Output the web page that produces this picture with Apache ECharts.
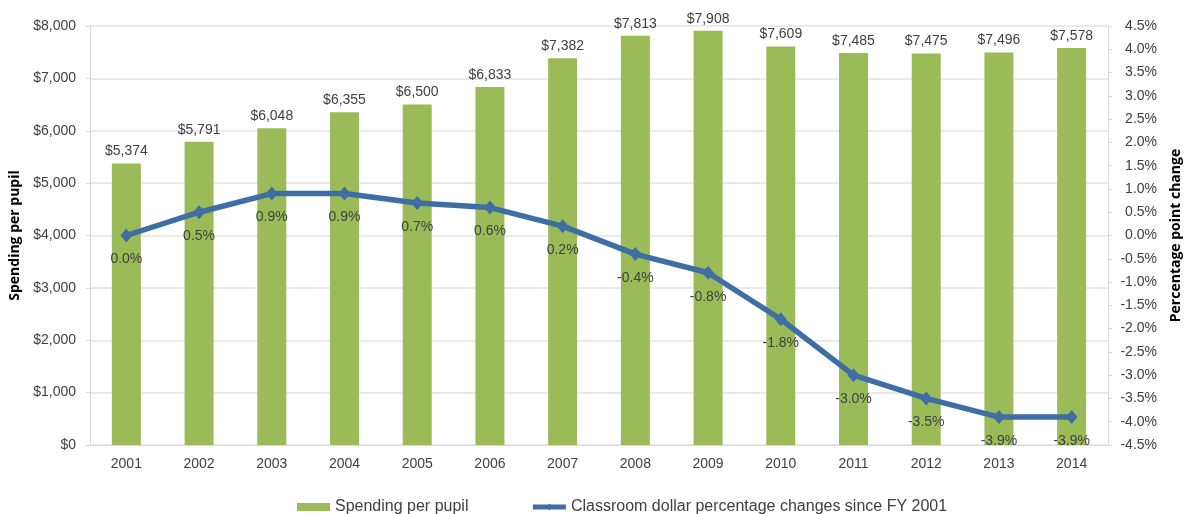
<!DOCTYPE html>
<html>
<head>
<meta charset="utf-8">
<script src="https://cdn.jsdelivr.net/npm/echarts@6/dist/echarts.min.js"></script>
<style>
  html, body { margin: 0; padding: 0; background: #fff; }
  #chart { width: 1191px; height: 514px; }
</style>
</head>
<body>
<div id="chart"></div>
<script>
// 数据
//-----
var years = ['2001', '2002', '2003', '2004', '2005', '2006', '2007',
             '2008', '2009', '2010', '2011', '2012', '2013', '2014'];
var spending = [5374, 5791, 6048, 6355, 6500, 6833, 7382,
                7813, 7908, 7609, 7485, 7475, 7496, 7578];
var pctChange = [0.0, 0.5, 0.9, 0.9, 0.7, 0.6, 0.2,
                 -0.4, -0.8, -1.8, -3.0, -3.5, -3.9, -3.9];

var textColor = '#404040';
var font = 'Liberation Sans';
var lineColor = '#3E6EA4';

var myChart = echarts.init(document.getElementById('chart'));
var option = {
  animation: false,
  textStyle: { fontFamily: font },
  grid: { left: 90, right: 81, top: 26, bottom: 69 },
  legend: {
    top: 494,
    left: 292,
    itemGap: 62,
    itemWidth: 33,
    itemHeight: 8,
    textStyle: { fontSize: 16, color: textColor, fontFamily: font },
    data: [
      { name: 'Spending per pupil', icon: 'rect' },
      {
        name: 'Classroom dollar percentage changes since FY 2001',
        lineStyle: { width: 5, color: lineColor }
      }
    ]
  },
  xAxis: {
    type: 'category',
    data: years,
    axisLine: { lineStyle: { color: '#d9d9d9' } },
    axisTick: { show: false },
    axisLabel: { fontSize: 14, color: textColor, margin: 12 }
  },
  yAxis: [
    {
      type: 'value',
      min: 0,
      max: 8000,
      interval: 1000,
      name: 'Spending per pupil',
      nameLocation: 'middle',
      nameGap: 63,
      nameTextStyle: { fontSize: 14, fontWeight: 'bold', color: '#000', fontFamily: 'Open Sans' },
      axisLine: { show: true, lineStyle: { color: '#d9d9d9' } },
      axisTick: { show: true, length: 4, lineStyle: { color: '#d9d9d9' } },
      splitLine: { lineStyle: { color: '#e3e3e3', width: 1.5 } },
      axisLabel: {
        fontSize: 14,
        color: textColor,
        margin: 14,
        formatter: function (v) { return '$' + v.toLocaleString('en-US'); }
      }
    },
    {
      type: 'value',
      min: -4.5,
      max: 4.5,
      interval: 0.5,
      name: 'Percentage point change',
      nameLocation: 'middle',
      nameGap: 61,
      nameTextStyle: { fontSize: 14, fontWeight: 'bold', color: '#000', fontFamily: 'Open Sans' },
      axisLine: { show: true, lineStyle: { color: '#d9d9d9' } },
      axisTick: { show: true, length: 4, lineStyle: { color: '#d9d9d9' } },
      splitLine: { show: false },
      axisLabel: {
        fontSize: 14,
        color: textColor,
        margin: 49,
        align: 'right',
        formatter: function (v) { return v.toFixed(1) + '%'; }
      }
    }
  ],
  series: [
    {
      name: 'Spending per pupil',
      type: 'bar',
      data: spending,
      barWidth: 29,
      itemStyle: { color: '#9BBB59' },
      label: {
        show: true,
        position: 'top',
        distance: 5,
        fontSize: 14,
        color: textColor,
        formatter: function (p) { return '$' + p.value.toLocaleString('en-US'); }
      }
    },
    {
      name: 'Classroom dollar percentage changes since FY 2001',
      type: 'line',
      yAxisIndex: 1,
      data: pctChange,
      symbol: 'diamond',
      symbolSize: [12, 14],
      lineStyle: { color: lineColor, width: 5.5 },
      itemStyle: { color: lineColor },
      label: {
        show: true,
        position: 'bottom',
        distance: 10,
        fontSize: 14,
        color: textColor,
        formatter: function (p) { return p.value.toFixed(1) + '%'; }
      }
    }
  ]
};
myChart.setOption(option);
</script>
</body>
</html>
